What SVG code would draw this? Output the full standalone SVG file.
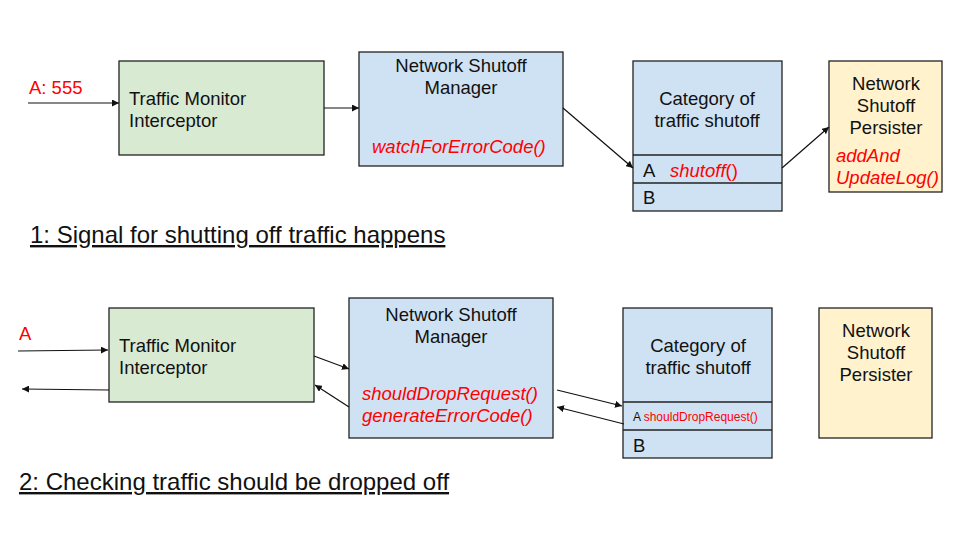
<svg xmlns="http://www.w3.org/2000/svg" width="968" height="558" viewBox="0 0 968 558">
<defs>
<style>
.box{stroke:#222;stroke-width:1.3}
.g{fill:#d9ead3}.b{fill:#cfe2f3}.y{fill:#fff2cc}
text{font-family:"Liberation Sans",Arial,sans-serif;font-size:18.5px;fill:#111}
.red{fill:#ff0000}
.it{font-style:italic}
.c{text-anchor:middle}
.h{font-size:24px;text-decoration:underline}
.conn line{stroke:#111;stroke-width:1.2;marker-end:url(#ah)}
</style>
<marker id="ah" viewBox="0 0 10 10" refX="10" refY="5" markerWidth="7" markerHeight="7" markerUnits="userSpaceOnUse" orient="auto">
<path d="M0,0 L10,5 L0,10 z" fill="#111"/>
</marker>
</defs>
<rect width="968" height="558" fill="#fff"/>

<!-- Diagram 1 -->
<g id="tm1">
<rect class="box g" x="119" y="61" width="205" height="94"/>
<text x="129" y="105">Traffic Monitor</text>
<text x="129" y="127">Interceptor</text>
</g>
<g id="nsm1">
<rect class="box b" x="359" y="52" width="204" height="114"/>
<text class="c" x="461" y="72">Network Shutoff</text>
<text class="c" x="461" y="94">Manager</text>
<text class="red it" x="372" y="153">watchForErrorCode()</text>
</g>
<g id="cat1">
<rect class="box b" x="633" y="61" width="149" height="150"/>
<line class="box" x1="633" y1="155" x2="782" y2="155"/>
<line class="box" x1="633" y1="183" x2="782" y2="183"/>
<text class="c" x="707" y="105">Category of</text>
<text class="c" x="707" y="127">traffic shutoff</text>
<text x="643" y="177">A</text>
<text x="670" y="177" class="red"><tspan class="it">shutoff</tspan>()</text>
<text x="643" y="204">B</text>
</g>
<g id="per1">
<rect class="box y" x="829" y="61" width="113" height="131"/>
<text class="c" x="886" y="90">Network</text>
<text class="c" x="886" y="112">Shutoff</text>
<text class="c" x="886" y="134">Persister</text>
<text class="red it" x="836" y="162">addAnd</text>
<text class="red it" x="836" y="184">UpdateLog()</text>
</g>
<text class="red" x="29" y="94">A: 555</text>
<text class="h" x="30" y="243">1: Signal for shutting off traffic happens</text>

<!-- Diagram 2 -->
<g id="tm2">
<rect class="box g" x="109" y="308" width="205" height="94"/>
<text x="119" y="352">Traffic Monitor</text>
<text x="119" y="374">Interceptor</text>
</g>
<g id="nsm2">
<rect class="box b" x="349" y="298" width="204" height="140"/>
<text class="c" x="451" y="321">Network Shutoff</text>
<text class="c" x="451" y="343">Manager</text>
<text class="red it" x="362" y="400">shouldDropRequest()</text>
<text class="red it" x="362" y="422">generateErrorCode()</text>
</g>
<g id="cat2">
<rect class="box b" x="623" y="308" width="149" height="150"/>
<line class="box" x1="623" y1="402" x2="772" y2="402"/>
<line class="box" x1="623" y1="430" x2="772" y2="430"/>
<text class="c" x="698" y="352">Category of</text>
<text class="c" x="698" y="374">traffic shutoff</text>
<text x="633" y="421" style="font-size:12px">A <tspan class="red">shouldDropRequest()</tspan></text>
<text x="633" y="452">B</text>
</g>
<g id="per2">
<rect class="box y" x="819" y="308" width="113" height="130"/>
<text class="c" x="876" y="337">Network</text>
<text class="c" x="876" y="359">Shutoff</text>
<text class="c" x="876" y="381">Persister</text>
</g>
<text class="red" x="19" y="340">A</text>
<text class="h" x="19" y="490">2: Checking traffic should be dropped off</text>

<g id="connectors" class="conn">
<line x1="28" y1="103" x2="119" y2="103"/>
<line x1="324" y1="108" x2="359" y2="108"/>
<line x1="563" y1="108" x2="633" y2="168"/>
<line x1="782" y1="168" x2="829" y2="127"/>
<line x1="18" y1="351" x2="108" y2="350"/>
<line x1="109" y1="390" x2="22" y2="389"/>
<line x1="314" y1="356" x2="349" y2="369"/>
<line x1="349" y1="407" x2="315" y2="385"/>
<line x1="557" y1="390" x2="622" y2="406"/>
<line x1="624" y1="424" x2="557" y2="407"/>
</g>
</svg>
